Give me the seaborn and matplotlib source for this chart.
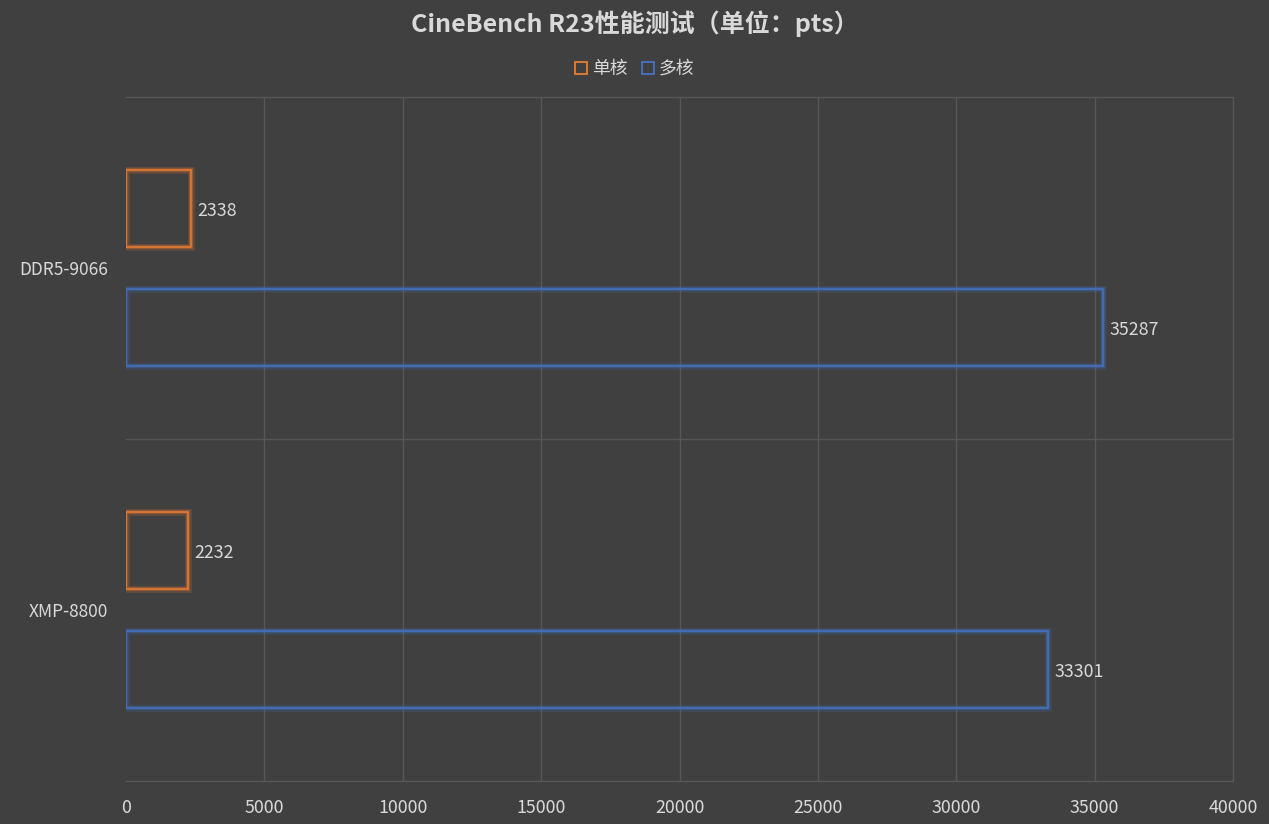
import numpy as np
import pandas as pd
import seaborn as sns
import matplotlib.pyplot as plt
import matplotlib.patheffects as pe
from matplotlib.patches import Patch

# Dados
configs = ["DDR5-9066", "XMP-8800"]
single_core = [2338, 2232]
multi_core = [35287, 33301]
series_names = ["单核", "多核"]
x_ticks = [0, 5000, 10000, 15000, 20000, 25000, 30000, 35000, 40000]

df = pd.DataFrame({
    "config": configs * 2,
    "score": single_core + multi_core,
    "serie": [series_names[0]] * 2 + [series_names[1]] * 2,
})

bg = "#404040"
grid_c = "#575757"
text_c = "#d9d9d9"
cores = {"单核": "#ED7D31", "多核": "#4472C4"}

sns.set_theme(style="dark")
plt.rcParams['font.family'] = ['Noto Sans CJK SC', 'DejaVu Sans']

fig = plt.figure(figsize=(12.69, 8.24), dpi=100, facecolor=bg)
ax = fig.add_axes([126 / 1269, 1 - 781 / 824, (1233 - 126) / 1269, (781 - 97) / 824])
ax.set_facecolor(bg)

sns.barplot(data=df, y="config", x="score", hue="serie", hue_order=series_names,
            orient="h", width=0.696, gap=0.348, palette=cores, ax=ax, legend=False)

# barras só com contorno + brilho
for patch, serie in zip(ax.patches, [series_names[0]] * 2 + [series_names[1]] * 2):
    c = cores[serie]
    patch.set_facecolor("none")
    patch.set_edgecolor(c)
    patch.set_linewidth(1.1)
    patch.set_path_effects([pe.Stroke(linewidth=5, foreground=c, alpha=0.18),
                            pe.Stroke(linewidth=3, foreground=c, alpha=0.3),
                            pe.Normal()])

# rótulos de valor
for patch in ax.patches:
    w = patch.get_width()
    yc = patch.get_y() + patch.get_height() / 2
    ax.annotate(f"{int(round(w))}", (w, yc), xytext=(5, -1.5), textcoords="offset points",
                va="center", ha="left", color=text_c, fontsize=12.8)

ax.set_xlim(0, 40000)
ax.set_ylim(1.5, -0.5)
ax.set_xticks(x_ticks)
ax.set_xticklabels([str(t) for t in x_ticks])
ax.tick_params(axis="x", colors=text_c, labelsize=12.8, length=0, pad=13)
ax.tick_params(axis="y", colors=text_c, labelsize=12.5, length=0, pad=13)
ax.set_xlabel("")
ax.set_ylabel("")

# grade
ax.grid(False)
for t in x_ticks[1:-1]:
    ax.axvline(t, color=grid_c, linewidth=1, zorder=0)
ax.axhline(0.5, color=grid_c, linewidth=1, zorder=0)
for s in ["top", "right", "bottom"]:
    ax.spines[s].set_visible(True)
    ax.spines[s].set_color(grid_c)
    ax.spines[s].set_linewidth(1)
ax.spines["left"].set_visible(False)

fig.text(0.5, 1 - 24 / 824, "CineBench R23性能测试（单位：pts）", ha="center", va="center",
         color=text_c, fontsize=18, fontweight="bold")

handles = [Patch(facecolor="none", edgecolor=cores[s], linewidth=1.3, label=s) for s in series_names]
leg = fig.legend(handles=handles, loc="center", bbox_to_anchor=(0.5, 1 - 69 / 824), ncol=2,
                 frameon=False, fontsize=12.8, handlelength=0.7, handleheight=0.7,
                 handletextpad=0.25, columnspacing=0.8)
for t in leg.get_texts():
    t.set_color(text_c)

fig.savefig("out.png", dpi=100, facecolor=bg)
